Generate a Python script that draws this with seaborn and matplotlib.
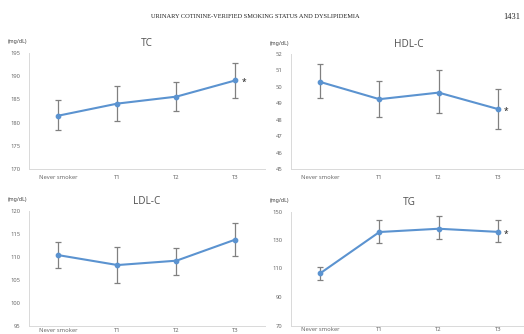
import matplotlib
matplotlib.use("Agg")
import matplotlib.pyplot as plt
import seaborn as sns
import pandas as pd
from matplotlib.ticker import FixedLocator

sns.set_theme(style="white")
plt.rcParams["font.family"] = ["Noto Sans", "DejaVu Sans"]

groups = ["Never smoker", "T1", "T2", "T3"]

tc_mean = [181.5, 184.1, 185.6, 189.1]
tc_low = [178.3, 180.4, 182.6, 185.3]
tc_high = [184.8, 187.9, 188.7, 192.9]

hdl_mean = [50.3, 49.25, 49.65, 48.65]
hdl_low = [49.3, 48.15, 48.4, 47.45]
hdl_high = [51.4, 50.35, 51.0, 49.9]

ldl_mean = [110.4, 108.25, 109.2, 113.8]
ldl_low = [107.5, 104.4, 106.1, 110.3]
ldl_high = [113.3, 112.1, 112.0, 117.4]

tg_mean = [106.6, 135.6, 137.9, 135.7]
tg_low = [101.8, 128.0, 130.5, 128.6]
tg_high = [111.3, 144.0, 146.6, 143.8]

panels = [
    # title, mean, low, high, y range, y step, significant at T3, box in px (left, top, width, height), x label pad
    ("TC", tc_mean, tc_low, tc_high, (170, 195), 5, True, (29, 53, 236, 116), 4),
    ("HDL-C", hdl_mean, hdl_low, hdl_high, (45, 52), 1, True, (290.5, 54, 237, 115), 4),
    ("LDL-C", ldl_mean, ldl_low, ldl_high, (95, 120), 5, False, (29, 211, 236, 115), 1.2),
    ("TG", tg_mean, tg_low, tg_high, (70, 150), 20, True, (290.5, 211.5, 237, 114), 1.2),
]

W, H = 524, 334
fig = plt.figure(figsize=(W / 100, H / 100), dpi=100)
fig.patch.set_facecolor("white")

LINE = "#5b93d0"
GRID_GRAY = "#d9d9d9"
TEXT_GRAY = "#6a6a6a"

fig.text(255 / W, 1 - 17 / H,
         "URINARY COTININE-VERIFIED SMOKING STATUS AND DYSLIPIDEMIA",
         ha="center", va="center", fontsize=4.6, family="Liberation Serif", color="#222222")
fig.text(512 / W, 1 - 17 / H, "1431", ha="center", va="center",
         fontsize=6, family="Liberation Serif", color="#222222")

for title, mean, low, high, (ymin, ymax), step, star, (l, t, w, h), xpad in panels:
    ax = fig.add_axes([l / W, 1 - (t + h) / H, w / W, h / H])
    df = pd.DataFrame({"group": groups, "value": mean})
    sns.pointplot(data=df, x="group", y="value", order=groups, errorbar=None,
                  color=LINE, markers="o", markersize=3, linewidth=1.5, ax=ax, zorder=3)
    yerr = [[m - lo for m, lo in zip(mean, low)], [hi - m for m, hi in zip(mean, high)]]
    ax.errorbar(range(len(groups)), mean, yerr=yerr, fmt="none", ecolor="#808080",
                elinewidth=0.9, capsize=2, capthick=0.9, zorder=2)
    if star:
        ax.annotate("*", (3, mean[-1]), xytext=(4.5, -1.5), textcoords="offset points",
                    fontsize=6, color="#222222", ha="left", va="center")
    ax.set_xlim(-0.5, 3.5)
    ax.set_ylim(ymin, ymax)
    ax.set_yticks(list(range(ymin, ymax + 1, step)))
    ax.tick_params(axis="y", labelsize=4.2, colors=TEXT_GRAY, length=0, pad=6)
    ax.tick_params(axis="x", which="major", labelsize=4.2, colors=TEXT_GRAY, length=0, pad=xpad)
    ax.xaxis.set_minor_locator(FixedLocator([0.5, 1.5, 2.5]))
    ax.tick_params(axis="x", which="minor", length=2.5, color=GRID_GRAY, width=0.6)
    ax.set_xlabel("")
    ax.set_ylabel("")
    for side in ["top", "right"]:
        ax.spines[side].set_visible(False)
    for side in ["left", "bottom"]:
        ax.spines[side].set_color(GRID_GRAY)
        ax.spines[side].set_linewidth(0.7)
    ax.set_facecolor("none")
    ax.text(0.5, 1.08, title, transform=ax.transAxes,
            ha="center", va="center", fontsize=7.2, color="#595959")
    fig.text((l - 11) / W, 1 - (t - 11) / H, "(mg/dL)", ha="center", va="center",
             fontsize=3.8, color="#404040")

fig.savefig("out.png", dpi=100, facecolor="white")
